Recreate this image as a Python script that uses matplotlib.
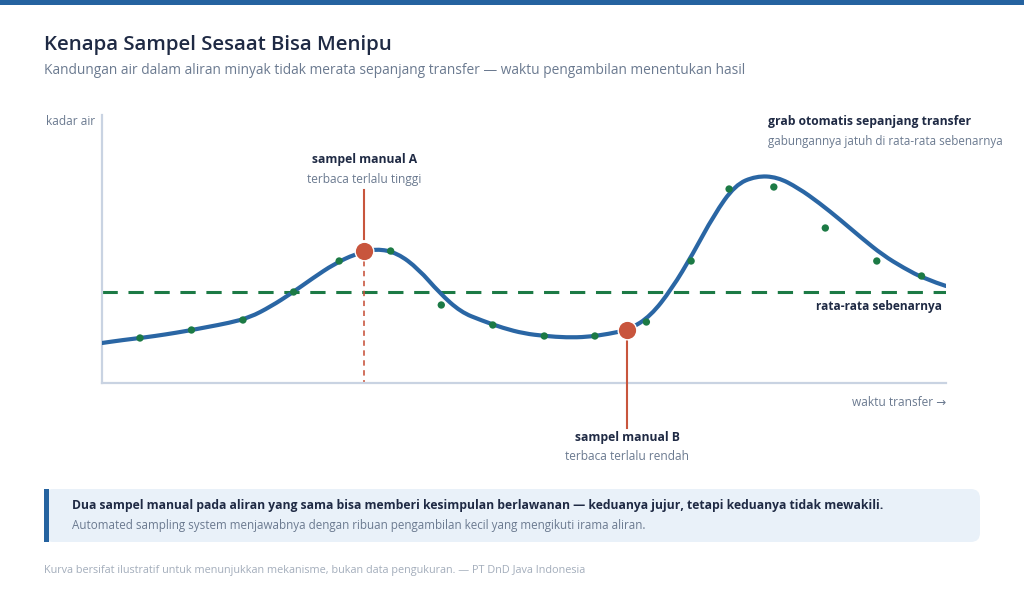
import matplotlib
matplotlib.use("Agg")
import matplotlib.pyplot as plt
from matplotlib.patches import FancyBboxPatch, Rectangle, PathPatch
from matplotlib.path import Path

plt.rcParams['font.family'] = ['Open Sans', 'DejaVu Sans']

# ---------------- data (illustrative curve) ----------------
curve_x = [0, 2.5, 5, 7.5, 10, 12.5, 15, 17.5, 20, 22.5, 25, 27.5, 30, 32.5, 35,
           37.5, 40, 42.5, 45, 47.5, 50, 52.5, 55, 57.5, 60, 62.5, 65, 67.5, 70,
           72.5, 75, 77.5, 80, 82.5, 85, 87.5, 90, 92.5, 95, 97.5, 100]
curve_y = [40, 43, 45.5, 48.5, 52, 56, 60, 65.5, 76.5, 90, 105, 119, 129, 134.5, 130,
           114, 90, 71, 62.5, 55, 49.5, 47, 45.5, 46, 49, 53.5, 67, 94, 129,
           168, 198, 207, 206, 195, 180, 163, 145, 128, 115, 104, 97]

grab_x = [4.5, 10.6, 16.7, 22.7, 28.1, 34.2, 40.2, 46.3, 52.4, 58.4, 64.5,
          69.8, 74.3, 79.6, 85.7, 91.8, 97.1]
grab_y = [45, 53, 63, 91, 122, 132, 78, 58, 47, 47, 61,
          122, 194, 196, 155, 122, 107]

true_mean = 91

sample_names = ["sampel manual A", "sampel manual B"]
sample_notes = ["terbaca terlalu tinggi", "terbaca terlalu rendah"]
sample_x = [31.1, 62.2]
sample_y = [132.3, 53]

title = "Kenapa Sampel Sesaat Bisa Menipu"
subtitle = ("Kandungan air dalam aliran minyak tidak merata sepanjang transfer — "
            "waktu pengambilan menentukan hasil")
y_label = "kadar air"
x_label = "waktu transfer →"
mean_label = "rata-rata sebenarnya"
grab_title = "grab otomatis sepanjang transfer"
grab_note = "gabungannya jatuh di rata-rata sebenarnya"
box_bold = ("Dua sampel manual pada aliran yang sama bisa memberi kesimpulan berlawanan — "
            "keduanya jujur, tetapi keduanya tidak mewakili.")
box_text = "Automated sampling system menjawabnya dengan ribuan pengambilan kecil yang mengikuti irama aliran."
footer = "Kurva bersifat ilustratif untuk menunjukkan mekanisme, bukan data pengukuran. — PT DnD Java Indonesia"

# ---------------- styling ----------------
W, H = 1024, 589
BLUE = "#2a66a4"
GREEN = "#1c7a45"
RED = "#c8553d"
DARK = "#1f2a44"
GRAY = "#6b7a90"
LIGHTGRAY = "#a3adbb"
AXIS = "#c9d3e2"

fig = plt.figure(figsize=(W / 100, H / 100), dpi=100)
fig.patch.set_facecolor("white")


def fx(px):
    return px / W


def fy(py):
    return 1 - py / H


# top band
fig.patches.append(Rectangle((0, fy(5)), 1, 5 / H, transform=fig.transFigure,
                             facecolor="#2563a0", edgecolor="none"))

fig.text(fx(44), fy(45), title, fontsize=14.7, fontweight="semibold", color=DARK,
         ha="left", va="center")
fig.text(fx(44), fy(71), subtitle, fontsize=9.95, color=GRAY, ha="left", va="center")

# axes
ax_l, ax_r, ax_t, ax_b = 102, 946, 115, 383
ax = fig.add_axes([fx(ax_l), fy(ax_b), (ax_r - ax_l) / W, (ax_b - ax_t) / H])
ax.set_xlim(0, 100)
ax.set_ylim(0, ax_b - ax_t)
ax.set_facecolor("none")
for s in ["top", "right"]:
    ax.spines[s].set_visible(False)
for s in ["left", "bottom"]:
    ax.spines[s].set_color(AXIS)
    ax.spines[s].set_linewidth(1.6)
ax.set_xticks([])
ax.set_yticks([])

# mean line
ax.axhline(true_mean, color=GREEN, lw=2.2, ls=(0, (5, 3.5)), zorder=2)

# curve: smooth path through midpoints with the read points as control points
pts = list(zip(curve_x, curve_y))
verts = [pts[0], ((pts[0][0] + pts[1][0]) / 2, (pts[0][1] + pts[1][1]) / 2)]
codes = [Path.MOVETO, Path.LINETO]
for i in range(1, len(pts) - 1):
    nxt = pts[i + 1]
    if i < len(pts) - 2:
        end = ((pts[i][0] + nxt[0]) / 2, (pts[i][1] + nxt[1]) / 2)
    else:
        end = nxt
    verts += [pts[i], end]
    codes += [Path.CURVE3, Path.CURVE3]
ax.add_patch(PathPatch(Path(verts, codes), facecolor="none", edgecolor=BLUE, lw=3,
                       capstyle="round", joinstyle="round", zorder=3))

# automated grabs
ax.scatter(grab_x, grab_y, s=28, color=GREEN, zorder=4, edgecolors="none")

# manual samples
ax.scatter(sample_x, sample_y, s=180, color=RED, zorder=6, edgecolors="white",
           linewidths=1.0)

# sample A annotation (above)
ax.plot([sample_x[0], sample_x[0]], [383 - 190, 383 - 239], color=RED, lw=1.5,
        zorder=5, clip_on=False)
ax.plot([sample_x[0], sample_x[0]], [sample_y[0], 0], color=RED, lw=1.3,
        ls=(0, (3, 2.5)), zorder=2, alpha=0.9)
ax.text(sample_x[0], 383 - 160, sample_names[0], fontsize=8.7, fontweight="bold",
        color=DARK, ha="center", va="center", clip_on=False)
ax.text(sample_x[0], 383 - 179, sample_notes[0], fontsize=8.6, color=GRAY,
        ha="center", va="center", clip_on=False)

# sample B annotation (below)
ax.plot([sample_x[1], sample_x[1]], [sample_y[1], 383 - 428], color=RED, lw=1.5,
        zorder=5, clip_on=False)
ax.text(sample_x[1], 383 - 437, sample_names[1], fontsize=8.7, fontweight="bold",
        color=DARK, ha="center", va="center", clip_on=False)
ax.text(sample_x[1], 383 - 457, sample_notes[1], fontsize=8.6, color=GRAY,
        ha="center", va="center", clip_on=False)

# mean label
ax.text(99.5, 383 - 306.5, mean_label, fontsize=8.6, fontweight="bold", color=DARK,
        ha="right", va="center", clip_on=False)

# axis labels
fig.text(fx(946), fy(403), x_label, fontsize=8.6, color=GRAY, ha="right", va="center")
fig.text(fx(46), fy(121), y_label, fontsize=8.6, color=GRAY, ha="left", va="center")

# grab annotation
fig.text(fx(768), fy(121), grab_title, fontsize=8.7, fontweight="bold", color=DARK,
         ha="left", va="center")
fig.text(fx(768), fy(141), grab_note, fontsize=8.4, color=GRAY, ha="left", va="center")

# callout box
bx0, bx1, by0, by1 = 44, 980, 489, 542
box = FancyBboxPatch((fx(bx0), fy(by1)), (bx1 - bx0) / W, (by1 - by0) / H,
                     boxstyle="round,pad=0,rounding_size=0.009",
                     transform=fig.transFigure, facecolor="#e9f1f9",
                     edgecolor="none", mutation_aspect=W / H)
fig.patches.append(box)
fig.patches.append(Rectangle((fx(43.5), fy(by1)), 5 / W, (by1 - by0) / H,
                             transform=fig.transFigure, facecolor="#2563a0",
                             edgecolor="none"))
fig.text(fx(72), fy(506), box_bold, fontsize=8.7, fontweight="bold", color=DARK,
         ha="left", va="center")
fig.text(fx(72), fy(526), box_text, fontsize=8.4, color=GRAY, ha="left", va="center")

fig.text(fx(44), fy(570), footer, fontsize=7.8, color=LIGHTGRAY, ha="left", va="center")

fig.savefig("out.png", dpi=100, facecolor="white")
